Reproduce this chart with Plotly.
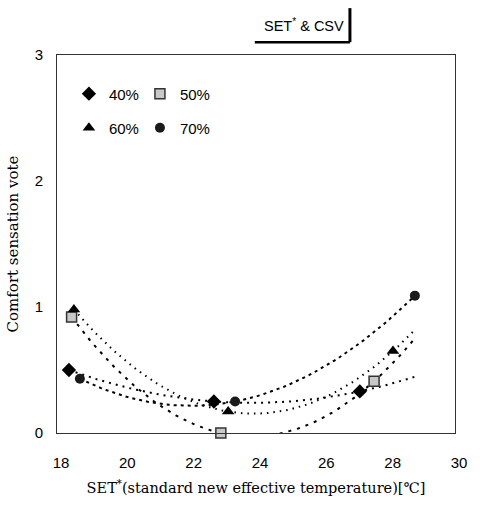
import numpy as np
import plotly.graph_objects as go

# Comfort sensation vote vs SET* for four relative-humidity groups
humidity = ["40%", "50%", "60%", "70%"]
set_40 = [18.36, 22.73, 27.13]
csv_40 = [0.50, 0.25, 0.33]
set_50 = [18.44, 22.94, 27.56]
csv_50 = [0.92, 0.00, 0.41]
set_60 = [18.51, 23.16, 28.13]
csv_60 = [0.98, 0.17, 0.65]
set_70 = [18.69, 23.37, 28.79]
csv_70 = [0.43, 0.25, 1.09]

x_ticks = [18, 20, 22, 24, 26, 28, 30]
y_ticks = [0, 1, 2, 3]

series = [
    (humidity[0], set_40, csv_40, dict(symbol="diamond", size=11, color="black"), "2px,5px", "legend"),
    (humidity[1], set_50, csv_50, dict(symbol="square", size=10, color="#c8c8c8",
                                        line=dict(color="#333", width=1.5)), "3px,6px", "legend"),
    (humidity[2], set_60, csv_60, dict(symbol="triangle-up", size=11, color="black"), "1.5px,5px", "legend2"),
    (humidity[3], set_70, csv_70, dict(symbol="circle", size=10, color="#1a1a1a"), "3px,4px", "legend2"),
]

x_end = max(max(s[1]) for s in series)

fig = go.Figure()
for name, xs, ys, marker, dash, lg in series:
    # second-order polynomial trend line through each group
    coef = np.polyfit(xs, ys, 2)
    xf = np.linspace(min(xs), x_end, 80)
    fig.add_trace(go.Scatter(x=xf, y=np.polyval(coef, xf), mode="lines",
                             line=dict(color="black", width=2, dash=dash),
                             showlegend=False, hoverinfo="skip"))
for name, xs, ys, marker, dash, lg in series:
    fig.add_trace(go.Scatter(x=xs, y=ys, mode="markers", name=name, marker=marker,
                             cliponaxis=False, legend=lg))

legend_common = dict(orientation="h", xanchor="left", yanchor="middle",
                     font=dict(family="Liberation Sans, Arial", size=15, color="black"),
                     bgcolor="rgba(0,0,0,0)", entrywidth=26, itemwidth=30)

serif = "DejaVu Serif, Liberation Serif"

fig.update_layout(
    width=496, height=508,
    margin=dict(l=57, r=41, t=55, b=75),
    paper_bgcolor="white", plot_bgcolor="white",
    font=dict(family="Liberation Sans, Arial", size=15, color="black"),
    legend=dict(x=0.03, y=0.897, **legend_common),
    legend2=dict(x=0.03, y=0.807, **legend_common),
    xaxis=dict(range=[18, 30], tickvals=x_ticks, showgrid=False, zeroline=False,
               showline=True, linecolor="#333", linewidth=1, mirror=True, ticks="",
               tickfont=dict(size=15), ticklabelstandoff=16, ticklabelshift=4,
               title=dict(text="SET<sup>*</sup>(standard new effective temperature)[℃]",
                          font=dict(family=serif, size=14.5), standoff=12)),
    yaxis=dict(range=[0, 3], tickvals=y_ticks, showgrid=False, zeroline=False,
               showline=True, linecolor="#333", linewidth=1, mirror=True, ticks="",
               tickfont=dict(size=15), ticklabelstandoff=10,
               title=dict(text="Comfort sensation vote",
                          font=dict(family=serif, size=15), standoff=12)),
    annotations=[dict(text="SET<sup>*</sup> & CSV", xref="paper", yref="paper",
                      x=0.62, y=1.079, xanchor="center", yanchor="middle", showarrow=False,
                      font=dict(family="Liberation Sans, Arial", size=14.5))],
    shapes=[
        # shadowed frame around the chart heading
        dict(type="line", xref="paper", yref="paper", x0=0.497, x1=0.736,
             y0=1.034, y1=1.034, line=dict(color="black", width=2.5)),
        dict(type="line", xref="paper", yref="paper", x0=0.736, x1=0.736,
             y0=1.034, y1=1.124, line=dict(color="black", width=3)),
    ],
)

fig.write_html("out.html")
